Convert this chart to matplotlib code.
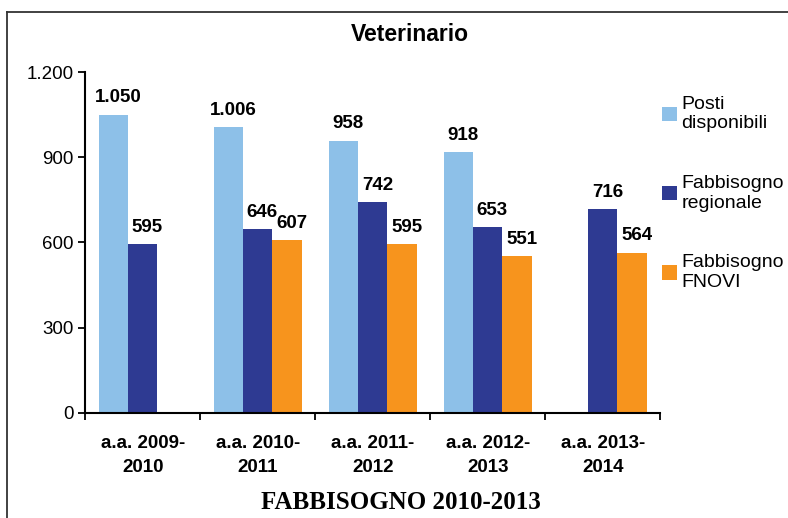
import numpy as np
import matplotlib
matplotlib.use('Agg')
import matplotlib.pyplot as plt
from matplotlib.lines import Line2D
from matplotlib import font_manager

plt.rcParams['font.family'] = ['Liberation Sans', 'DejaVu Sans']

# dati
categorie = ['a.a. 2009-\n2010', 'a.a. 2010-\n2011', 'a.a. 2011-\n2012',
             'a.a. 2012-\n2013', 'a.a. 2013-\n2014']
posti = [1050, 1006, 958, 918, None]
fabb_regionale = [595, 646, 742, 653, 716]
fabb_fnovi = [None, 607, 595, 551, 564]
serie_nomi = ['Posti\ndisponibili', 'Fabbisogno\nregionale', 'Fabbisogno\nFNOVI']
colori = ['#8DC0E8', '#2E3A92', '#F7941D']
y_ticks = [0, 300, 600, 900, 1200]


def fmt_it(v):
    return f'{v:,.0f}'.replace(',', '.')


nomi_font = {f.name for f in font_manager.fontManager.ttflist}
font_cat = ['Liberation Sans Narrow', 'Liberation Sans'] if 'Liberation Sans Narrow' in nomi_font else ['Liberation Sans']

fig = plt.figure(figsize=(7.88, 5.18), dpi=100)
ax = fig.add_axes([0.108, 0.203, 0.730, 0.658])

x = np.arange(len(categorie))
w = 0.255
handles = []
for i, (vals, col, nome) in enumerate(zip([posti, fabb_regionale, fabb_fnovi], colori, serie_nomi)):
    xs = [xi + (i - 1) * w for xi, v in zip(x, vals) if v is not None]
    hs = [v for v in vals if v is not None]
    bars = ax.bar(xs, hs, width=w, color=col, label=nome)
    handles.append(bars)
    for xb, h in zip(xs, hs):
        ax.annotate(fmt_it(h), (xb + 0.04, h), xytext=(0, 6), textcoords='offset points',
                    ha='center', va='bottom', fontsize=13.5, fontweight='bold')

ax.set_xlim(-0.5, len(categorie) - 0.5)
ax.set_ylim(0, 1200)
ax.set_yticks(y_ticks)
ax.set_yticklabels([fmt_it(t) for t in y_ticks], fontsize=13.5)
ax.set_xticks(x)
ax.set_xticklabels(categorie, fontsize=13.5, fontweight='bold', linespacing=1.5,
                   family=font_cat)
ax.tick_params(axis='x', which='major', length=0, pad=16)
ax.set_xticks(np.arange(-0.5, len(categorie), 1.0), minor=True)
ax.tick_params(axis='x', which='minor', length=5, width=1.3, direction='out')
ax.tick_params(axis='y', length=5, width=1.3, direction='out', pad=3)
for s in ['top', 'right']:
    ax.spines[s].set_visible(False)
for s in ['left', 'bottom']:
    ax.spines[s].set_linewidth(1.5)

leg = fig.legend(handles=handles, labels=serie_nomi, loc='upper left',
                 bbox_to_anchor=(0.818, 0.849), frameon=False, fontsize=14,
                 handlelength=0.75, handleheight=0.75, handletextpad=0.25,
                 labelspacing=2.2)

fig.text(0.52, 0.933, 'Veterinario', ha='center', va='center',
         fontsize=16.5, fontweight='bold')
fig.text(0.509, 0.03, 'FABBISOGNO 2010-2013', ha='center', va='center',
         fontsize=18, fontweight='bold', family=['Liberation Serif', 'DejaVu Serif'])

# cornice
fig.add_artist(Line2D([0.009, 1.0], [0.977, 0.977], color='#333333', lw=1.3,
                      transform=fig.transFigure))
fig.add_artist(Line2D([0.009, 0.009], [0.977, 0.0], color='#333333', lw=1.3,
                      transform=fig.transFigure))

fig.savefig('out.png', dpi=100)
